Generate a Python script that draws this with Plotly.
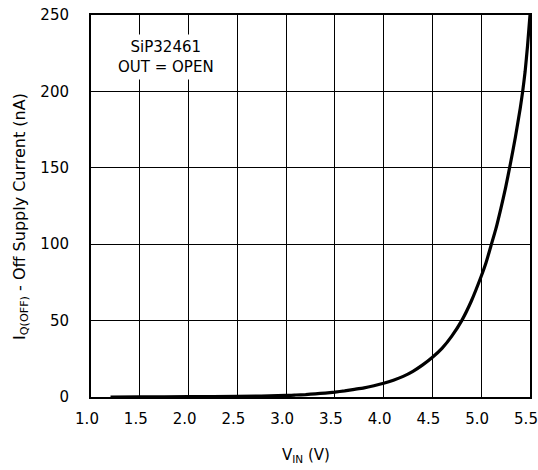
import plotly.graph_objects as go

vin = [1.2, 1.5, 2.0, 2.5, 3.0, 3.1, 3.2, 3.3, 3.4, 3.5, 3.6, 3.7, 3.8, 3.9,
       4.0, 4.1, 4.2, 4.3, 4.4, 4.5, 4.6, 4.7, 4.8, 4.9, 5.0, 5.05, 5.1, 5.15,
       5.2, 5.25, 5.3, 5.35, 5.4, 5.425, 5.45, 5.475, 5.5]
iq_off = [0.0, 0.05, 0.2, 0.4, 1.0, 1.3, 1.6, 2.1, 2.6, 3.2, 4.0, 5.0, 6.0, 7.4,
          9.0, 11.0, 13.5, 16.8, 21.0, 26.0, 32.0, 40.0, 50.0, 63.0, 79.0, 88.0, 99.0, 110.0,
          123.0, 137.0, 153.0, 170.0, 189.0, 200.0, 213.0, 230.0, 250.0]

x_ticks = [1.0, 1.5, 2.0, 2.5, 3.0, 3.5, 4.0, 4.5, 5.0, 5.5]
y_ticks = [0, 50, 100, 150, 200, 250]

FONT = "DejaVu Sans, Liberation Sans, Arial, sans-serif"
FS = 15

fig = go.Figure()
fig.add_trace(go.Scatter(
    x=vin, y=iq_off, mode="lines",
    line=dict(color="black", width=3.2, shape="spline", smoothing=0.5),
    cliponaxis=False, showlegend=False, hoverinfo="skip",
))

fig.add_annotation(
    x=1.77, y=222.5, xref="x", yref="y",
    text="SiP32461<br>OUT = OPEN", showarrow=False,
    font=dict(family=FONT, size=FS, color="black"),
    bgcolor="white", borderpad=3, align="center",
)

# axis titles
fig.add_annotation(
    x=0.5, y=0, xref="paper", yref="paper", xshift=-5, yshift=-58,
    xanchor="center", yanchor="middle",
    text="V<sub>IN</sub> (V)", showarrow=False,
    font=dict(family=FONT, size=FS, color="black"),
)
fig.add_annotation(
    x=0, y=0.5, xref="paper", yref="paper", xshift=-71, yshift=-11,
    xanchor="center", yanchor="middle", textangle=-90,
    text="I<sub>Q(OFF)</sub> - Off Supply Current (nA)", showarrow=False,
    font=dict(family=FONT, size=16, color="black"),
)

axis_common = dict(
    showline=True, linecolor="black", linewidth=2, mirror=True,
    showgrid=True, gridcolor="black", gridwidth=1,
    zeroline=False, ticks="", automargin=False,
    tickfont=dict(family=FONT, size=FS, color="black"),
)

fig.update_xaxes(
    range=[1.0, 5.5], tickvals=x_ticks, ticktext=[f"{v:.1f}" for v in x_ticks],
    ticklabelstandoff=7, ticklabelshift=-4, ticklabeloverflow="allow",
    **axis_common,
)
fig.update_yaxes(
    range=[0, 250], tickvals=y_ticks, ticktext=[str(v) for v in y_ticks],
    ticklabelstandoff=17, ticklabeloverflow="allow",
    **axis_common,
)

fig.update_layout(
    width=538, height=470,
    margin=dict(l=91, r=8, t=15, b=73),
    paper_bgcolor="white", plot_bgcolor="white",
    font=dict(family=FONT, size=FS, color="black"),
)

# remove the page's default body margin so the figure fills the window exactly
fig.write_html(
    "out.html",
    config={"displayModeBar": False},
    post_script="document.body.style.margin='0';document.body.style.overflow='hidden';",
)
